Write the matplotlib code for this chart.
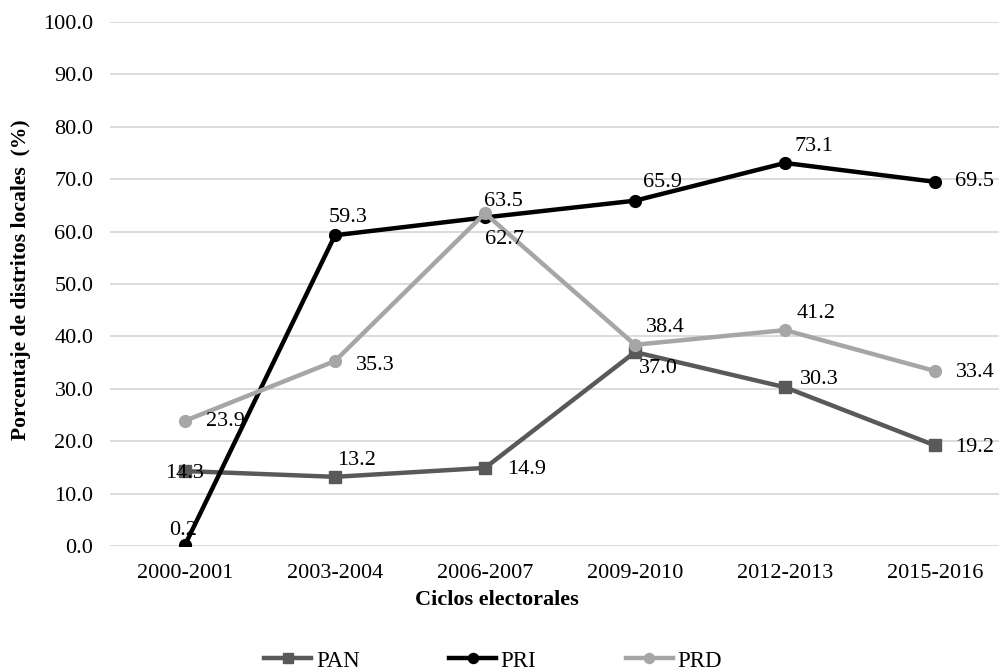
import matplotlib
matplotlib.use("Agg")
import matplotlib.pyplot as plt

categories = ["2000-2001", "2003-2004", "2006-2007", "2009-2010", "2012-2013", "2015-2016"]
pan = [14.3, 13.2, 14.9, 37.0, 30.3, 19.2]
pri = [0.2, 59.3, 62.7, 65.9, 73.1, 69.5]
prd = [23.9, 35.3, 63.5, 38.4, 41.2, 33.4]
yticks = [0, 10, 20, 30, 40, 50, 60, 70, 80, 90, 100]

# label offsets in pixels (dx, dy) relative to each marker
pan_off = [(0, -2), (22, 16), (42, -2), (23, -16), (34, 8), (40, -2)]
pri_off = [(-2, 14), (13, 18), (20, -22), (27, 18), (29, 16), (40, 0)]
prd_off = [(40, -1), (40, -4), (18, 12), (30, 17), (31, 17), (40, -2)]

plt.rcParams['font.family'] = ['Liberation Serif', 'DejaVu Serif']

W, H = 999, 672
fig = plt.figure(figsize=(W / 100, H / 100), dpi=100)
left_px, right_px, top_px, bottom_px = 110, 999, 22, 546
ax = fig.add_axes([left_px / W, 1 - bottom_px / H, (right_px - left_px) / W, (bottom_px - top_px) / H])

FS = 16
x = list(range(len(categories)))
series = [
    ("PAN", pan, "#595959", "s", pan_off),
    ("PRI", pri, "#000000", "o", pri_off),
    ("PRD", prd, "#A6A6A6", "o", prd_off),
]
lines = {}
for name, vals, col, mk, offs in series:
    ln, = ax.plot(x, vals, color=col, lw=3.2, marker=mk, markersize=8.5, label=name,
                  solid_joinstyle='round', zorder=3)
    lines[name] = ln
    for xi, v, (dx, dy) in zip(x, vals, offs):
        ax.annotate(f"{v:.1f}", (xi, v), xytext=(dx, dy), textcoords='offset pixels',
                    ha='center', va='center', fontsize=FS, color='#000000', zorder=4)

ax.set_xlim(-0.5, (right_px - 185) / 150)
ax.set_ylim(0, 100)
ax.set_yticks(yticks)
ax.set_yticklabels([f"{t:.1f}" for t in yticks], fontsize=FS)
ax.set_xticks(x)
ax.set_xticklabels(categories, fontsize=FS)
ax.tick_params(length=0, pad=12)
ax.tick_params(axis='x', pad=13)
for s in ax.spines.values():
    s.set_visible(False)
ax.grid(axis='y', color='#D9D9D9', lw=1.3)
ax.set_axisbelow(True)

fig.text(497 / W, 1 - 600 / H, "Ciclos electorales", ha='center', va='center',
         fontsize=16, fontweight='bold')
fig.text(21 / W, 1 - 280 / H, "Porcentaje de distritos locales  (%)", ha='center', va='center',
         rotation=90, fontsize=15.6, fontweight='bold')

leg = fig.legend(handles=[lines["PAN"], lines["PRI"], lines["PRD"]], loc='center',
                 bbox_to_anchor=(493 / W, 1 - 661 / H), ncol=3, frameon=False,
                 fontsize=16.5, handlelength=2.05, handletextpad=0.2, columnspacing=3.9,
                 markerscale=0.85)

fig.savefig("out.png", dpi=100)
